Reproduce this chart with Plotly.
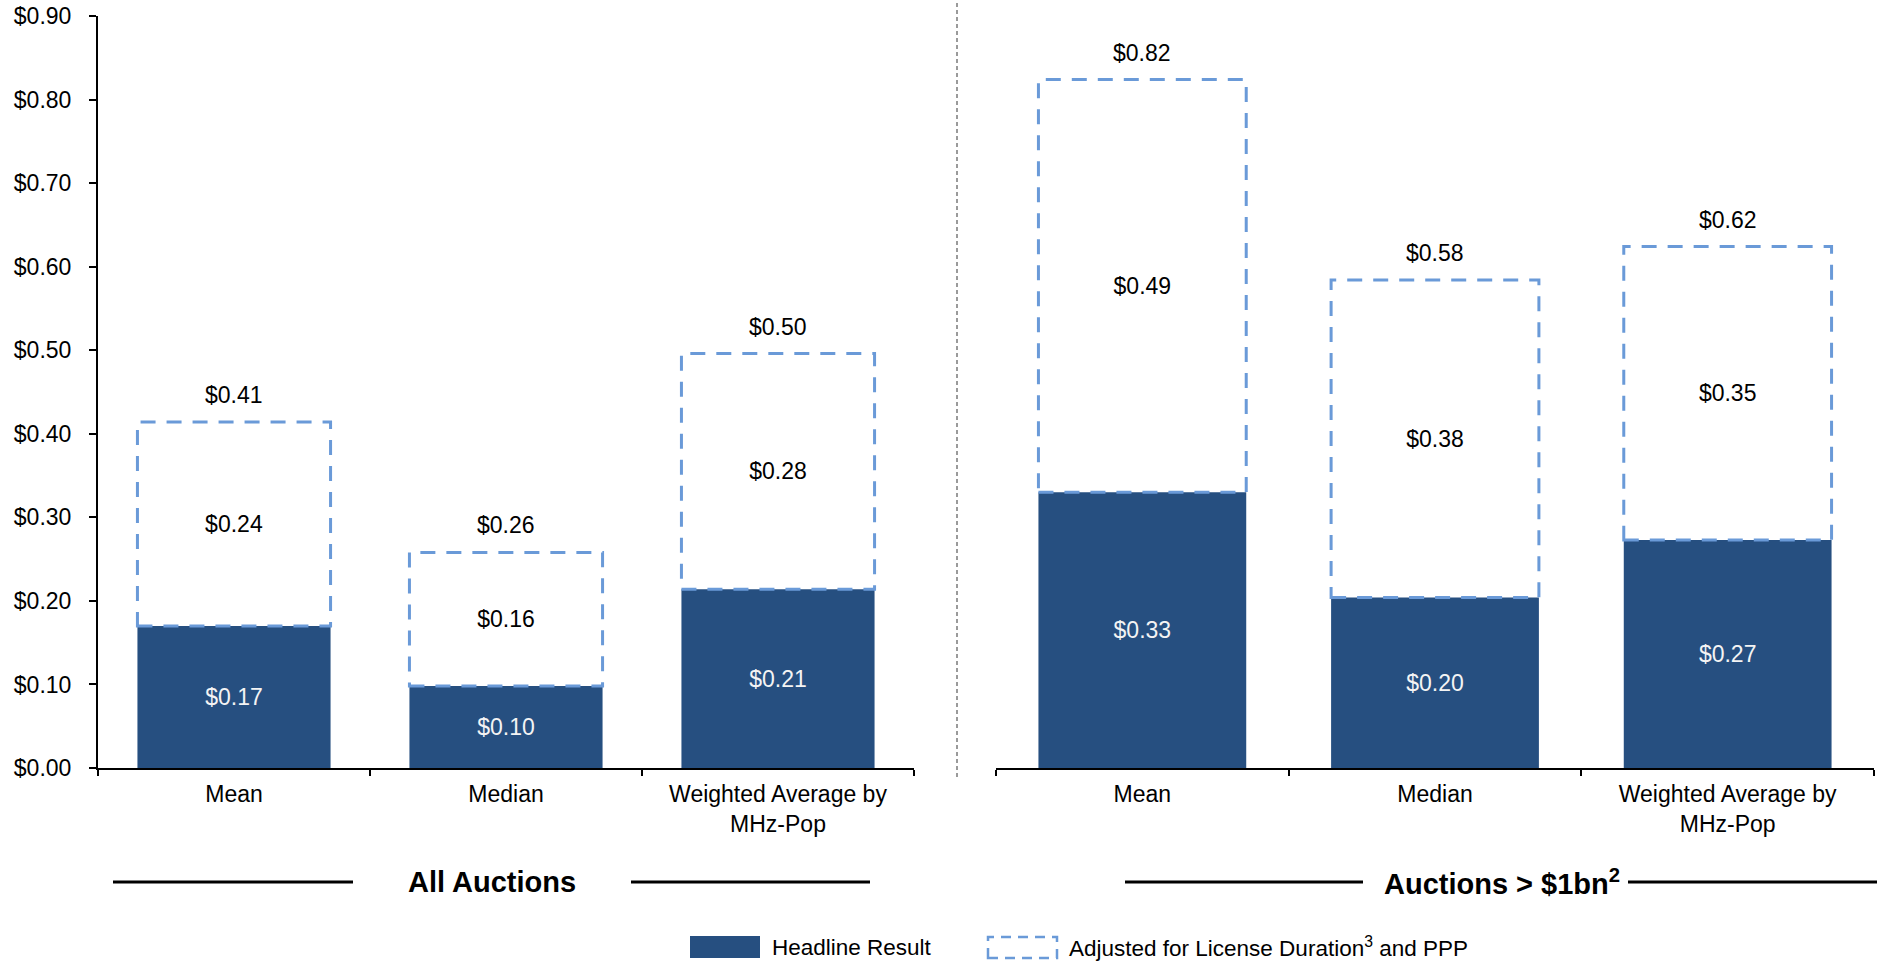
import plotly.graph_objects as go

# Price per MHz-Pop, headline vs. adjusted for licence duration and PPP
categories = ["Mean", "Median", "Weighted Average by<br>MHz-Pop"]
all_headline = [0.170, 0.098, 0.214]
all_adjusted = [0.414, 0.258, 0.496]
big_headline = [0.330, 0.204, 0.273]
big_adjusted = [0.824, 0.584, 0.624]
y_ticks = [0.0, 0.1, 0.2, 0.3, 0.4, 0.5, 0.6, 0.7, 0.8, 0.9]

NAVY = "#264F80"
DASH_BLUE = "#6A9AD8"
FONT = "Liberation Sans, Arial, sans-serif"
BAR_W = 0.71
FS = 23

W, H = 1877, 961
TOP, BOTTOM = 16, 193
PLOT_H = H - TOP - BOTTOM


def px_x(x):
    return x / W


def px_y(y):
    # pixel row (from top of page) -> paper y
    return (H - BOTTOM - y) / PLOT_H


fig = go.Figure()

panels = [
    ("x", "y", all_headline, all_adjusted),
    ("x2", "y2", big_headline, big_adjusted),
]

shapes = []
annotations = []

for xa, ya, head, adj in panels:
    inc = [a - h for a, h in zip(adj, head)]
    fig.add_trace(go.Bar(
        x=categories, y=head, xaxis=xa, yaxis=ya,
        width=BAR_W, marker=dict(color=NAVY, line=dict(width=0)),
        text=[f"${v:.2f}" for v in head], texttemplate="%{text}",
        textposition="inside", insidetextanchor="middle",
        textfont=dict(color="#F4F4F4", size=FS, family=FONT),
        hoverinfo="skip", showlegend=False,
    ))
    fig.add_trace(go.Bar(
        x=categories, y=inc, base=head, xaxis=xa, yaxis=ya,
        width=BAR_W, marker=dict(color="rgba(0,0,0,0)", line=dict(width=0)),
        text=[f"${v:.2f}" for v in inc], texttemplate="%{text}",
        textposition="inside", insidetextanchor="middle",
        textfont=dict(color="black", size=FS, family=FONT),
        hoverinfo="skip", showlegend=False,
    ))
    # dashed outline of the adjusted segment
    for i, (h, a) in enumerate(zip(head, adj)):
        shapes.append(dict(
            type="rect", xref=xa, yref=ya,
            x0=i - BAR_W / 2, x1=i + BAR_W / 2, y0=h, y1=a,
            line=dict(color=DASH_BLUE, width=3, dash="15px,11px"),
            fillcolor="rgba(0,0,0,0)", layer="above",
        ))
        annotations.append(dict(
            x=categories[i], y=a, xref=xa, yref=ya,
            text=f"${a:.2f}", showarrow=False,
            yanchor="bottom", yshift=12,
            font=dict(size=FS, color="black", family=FONT),
        ))

# dotted divider between the two panels
shapes.append(dict(
    type="line", xref="paper", yref="paper",
    x0=px_x(957), x1=px_x(957), y0=px_y(777), y1=px_y(0),
    line=dict(color="#9A9A9A", width=2, dash="4px,3px"),
))

# group headings with rules on either side
group_y = px_y(882)
for (l0, l1), (r0, r1), cx, label in [
    ((113, 353), (631, 870), 492, "All Auctions"),
    ((1125, 1363), (1628, 1877), 1502, "Auctions > $1bn<sup>2</sup>"),
]:
    for a0, a1 in [(l0, l1), (r0, r1)]:
        shapes.append(dict(
            type="line", xref="paper", yref="paper",
            x0=px_x(a0), x1=px_x(a1), y0=group_y, y1=group_y,
            line=dict(color="black", width=3),
        ))
    annotations.append(dict(
        x=px_x(cx), y=group_y, xref="paper", yref="paper",
        text=f"<b>{label}</b>", showarrow=False,
        xanchor="center", yanchor="middle",
        font=dict(size=29, color="black", family=FONT),
    ))

# legend
shapes.append(dict(
    type="rect", xref="paper", yref="paper",
    x0=px_x(690), x1=px_x(760), y0=px_y(958), y1=px_y(936),
    fillcolor=NAVY, line=dict(width=0),
))
shapes.append(dict(
    type="rect", xref="paper", yref="paper",
    x0=px_x(988), x1=px_x(1057), y0=px_y(958), y1=px_y(937),
    fillcolor="rgba(0,0,0,0)",
    line=dict(color=DASH_BLUE, width=2.5, dash="10px,7px"),
))
annotations.append(dict(
    x=px_x(770), y=px_y(947), xref="paper", yref="paper",
    text="Headline Result", showarrow=False,
    xanchor="left", yanchor="middle",
    font=dict(size=22.5, color="black", family=FONT),
))
annotations.append(dict(
    x=px_x(1067), y=px_y(947), xref="paper", yref="paper",
    text="Adjusted for License Duration<sup>3</sup> and PPP", showarrow=False,
    xanchor="left", yanchor="middle",
    font=dict(size=22.5, color="black", family=FONT),
))

xaxis_common = dict(
    type="category", tickson="boundaries", ticks="outside",
    ticklen=6, tickwidth=1.5, tickcolor="black",
    showline=True, linecolor="black", linewidth=1.5,
    showgrid=False, zeroline=False, ticklabelstandoff=5,
    tickfont=dict(size=FS, color="black", family=FONT),
    fixedrange=True,
)

fig.update_layout(
    width=W, height=H,
    margin=dict(l=0, r=0, t=TOP, b=BOTTOM, pad=0),
    paper_bgcolor="white", plot_bgcolor="white",
    barmode="overlay", showlegend=False,
    xaxis=dict(domain=[px_x(98), px_x(914)], anchor="y", **xaxis_common),
    xaxis2=dict(domain=[px_x(996), px_x(1874)], anchor="y2", **xaxis_common),
    yaxis=dict(
        range=[0, 0.9], tickvals=y_ticks, tickformat="$.2f",
        ticks="outside", ticklen=7, tickwidth=2, tickcolor="black",
        showline=True, linecolor="black", linewidth=2,
        showgrid=False, zeroline=False, ticklabelstandoff=13,
        tickfont=dict(size=FS, color="black", family=FONT),
        anchor="x", fixedrange=True,
    ),
    yaxis2=dict(
        range=[0, 0.9], showline=False, showticklabels=False, ticks="",
        showgrid=False, zeroline=False, anchor="x2", fixedrange=True,
    ),
    shapes=shapes,
    annotations=annotations,
)

fig.write_html("out.html")
